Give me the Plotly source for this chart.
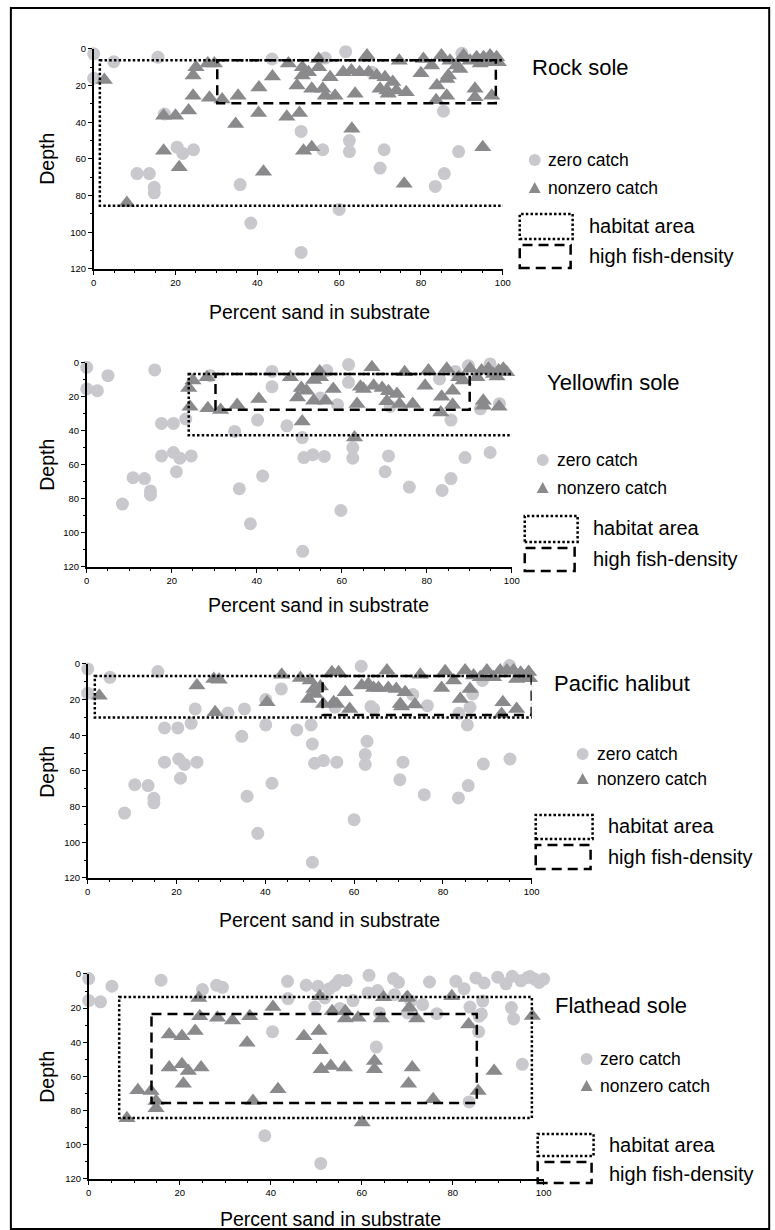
import plotly.graph_objects as go

W, H = 775, 1230

# ---------------- data (percent sand, depth) ----------------
SPECIES = ["Rock sole", "Yellowfin sole", "Pacific halibut", "Flathead sole"]

ROCK_ZERO_SAND = [0, 0, 4.9, 15.7, 43.6, 56.6, 61.6, 90, 17.3, 50.7, 20.4, 21.8, 24.4, 10.6, 13.6, 14.8, 14.8,
                  35.8, 38.4, 50.7, 60, 56, 62.5, 62.5, 71, 70, 83.5, 85.7, 89.2, 85.5, 68]
ROCK_ZERO_DEPTH = [2.7, 16, 7, 4.5, 5.5, 5, 1.5, 2.4, 35.5, 45, 53.6, 57, 55, 68, 68, 75.5, 78.5,
                   74, 95, 111, 87.6, 55, 50, 56, 55, 65, 75, 68, 56, 34, 12.7]
ROCK_CATCH_SAND = [2.6, 8.1, 17.1, 20, 17.1, 20.9, 23.2, 24.3, 24.3, 25, 27.9, 29.5, 28.3, 31.4, 34.7, 35.3,
                   40.3, 40.4, 41.5, 43.7, 47.2, 47.6, 50.3, 49.7, 51, 51, 51.3, 53.3, 52.5, 55, 55, 53.3,
                   56, 56.6, 57.8, 59, 61, 63, 65, 63.9, 63.1, 66.8, 67.2, 69.2, 70, 71.2, 71.7, 73.1, 72,
                   74, 74.7, 76.4, 75.9, 80, 80.6, 82.6, 83.9, 83.7, 85, 86.3, 86.3, 86.7, 87.1, 88.7, 89.5,
                   90.4, 92, 93.2, 93.2, 93.6, 95.3, 95.1, 96.1, 96.9, 97.3, 98.5, 98.9, 94.5]
ROCK_CATCH_DEPTH = [17, 84, 36.5, 36.5, 55.5, 64.5, 33.6, 25.5, 14.5, 10, 8, 8, 26.7, 27.6, 41, 25.5,
                    35, 21, 67, 15, 37, 8, 35, 20, 14.5, 10, 55.5, 53.6, 12.7, 10, 5.5, 21.8,
                    21.8, 25.5, 15.5, 25.5, 12.7, 11.8, 12.7, 24.5, 43.6, 3.6, 12.7, 14.5, 21.8, 15.5, 22.7, 18, 24.5,
                    22.7, 6.4, 23.6, 73.6, 13.3, 5.5, 9, 20, 28, 3.6, 16.4, 25.5, 14.5, 6.4, 9, 11,
                    3.6, 6.4, 21.8, 26.4, 4.5, 4.5, 53.6, 7.3, 3.6, 25.5, 4.5, 7.3, 8]

YELLOW_ZERO_SAND = [0, 0, 2.5, 5, 16, 17.6, 20.4, 23.3, 17.6, 20.4, 21.9, 24.6, 21.1, 10.9, 13.6, 15, 15, 8.4,
                    35.9, 38.5, 41.4, 34.8, 40.2, 43.6, 43.6, 47.1, 50.7, 51.1, 53.2, 55.9, 50.8, 59.8, 61.6,
                    61.6, 56.5, 55, 59, 62.6, 62.6, 71, 70.2, 75.9, 83.6, 85.7, 89, 94.9, 85.7, 83, 92.6,
                    97.1, 89.8, 94.9, 86.7, 71.4, 29.1]
YELLOW_ZERO_DEPTH = [2.6, 15.3, 16.3, 7.5, 4.1, 35.6, 35.6, 33, 54.7, 52.7, 56, 54.7, 64, 67.5, 68, 75.3, 77.7, 83,
                     74, 94.6, 66.5, 40.3, 33.6, 14, 5, 37, 43.9, 55.7, 54, 55, 110.8, 86.8, 1,
                     11.4, 4.5, 20.7, 24.6, 49.8, 56, 54.7, 64, 73, 75, 68, 55.7, 52.7, 33.6, 9.4, 27,
                     24, 1.6, 0.6, 5, 25.6, 7.5]
YELLOW_CATCH_SAND = [24, 24.3, 25, 28.3, 28.5, 31.5, 35.4, 40.5, 47.9, 49.6, 50.5, 50.7, 51.7, 53.4, 53.4, 54.8,
                     55, 56.2, 58, 63.6, 63, 64.4, 65.1, 67.1, 67.5, 69.5, 70.6, 71, 73, 73.6, 74.8, 76.7,
                     79.6, 80.4, 83.5, 83.3, 84.7, 86.1, 86.1, 87.5, 88.6, 90.2, 91.8, 92.9, 93.3, 93.3, 94.5,
                     95.7, 96.9, 97, 98, 98.8, 96.5]
YELLOW_CATCH_DEPTH = [14.8, 25.8, 10.4, 8.5, 26.6, 27.7, 24.8, 21.2, 8.5, 20.3, 14.8, 34.4, 16.3, 22.2, 10, 5,
                      8.5, 22.2, 15.3, 24.2, 43.9, 14, 15.3, 2.6, 13.4, 14.8, 22.6, 16.7, 18.3, 24.2, 5.5, 24.2,
                      13.4, 4.5, 19.9, 29.1, 3.5, 16.3, 24.6, 8.5, 10.4, 3.5, 8.5, 4.5, 22.2, 25.2, 3.5,
                      6.5, 4.5, 25.8, 3.5, 5.5, 8]

HALIBUT_ZERO_SAND = [0, 0, 5, 15.8, 17.3, 20.3, 23.3, 24.2, 31.6, 35.3, 34.7, 17.3, 20.5, 21.8, 24.6, 20.9, 10.6,
                     13.6, 14.9, 14.9, 8.3, 35.9, 38.3, 41.5, 40.1, 40.1, 43.6, 47.1, 50.3, 50.6, 51.1, 53.1,
                     56.1, 50.6, 60, 61.6, 62.9, 62.5, 62.5, 63.8, 64.4, 71, 70.3, 75.8, 83.5, 85.7, 89.1,
                     95.1, 85.5, 86.1, 83.6, 76.5, 73.2, 88.9, 95, 86.7, 55.7]
HALIBUT_ZERO_DEPTH = [2.8, 16.4, 7.5, 4.3, 35.9, 35.9, 33.3, 25.2, 27.5, 25.2, 40.6, 55.1, 53.3, 56.4, 55.1, 64.1, 67.7,
                      68.2, 75.3, 77.9, 83.6, 74.2, 95, 66.9, 34.2, 20, 14, 37, 34.2, 44.9, 55.7, 54.2,
                      55.1, 111.2, 87.3, 1.3, 43.4, 50.8, 56.4, 23.9, 25.2, 55.1, 64.9, 73.3, 75.1, 68.2, 56.1,
                      53.3, 34.2, 24.3, 27.7, 23.4, 17.2, 9.3, 0.9, 16.8, 24.3]
HALIBUT_CATCH_SAND = [2.6, 24.6, 28.4, 29.6, 28.7, 40.4, 43.7, 47.9, 50.1, 50.9, 49.7, 51.2, 52.4, 53.1, 55,
                      55.4, 56.1, 56.5, 58, 59, 61.7, 63.2, 64.4, 65.5, 67.4, 67.7, 69.5, 70.4, 70.7, 71.5,
                      73.7, 74.9, 79.7, 80.5, 82.4, 83.9, 85, 86.1, 86.9, 88.4, 89.9, 91.4, 92.9, 93.5, 93.2,
                      94.4, 95.9, 96.6, 96.6, 97.5, 98.5, 99.3, 99.5]
HALIBUT_CATCH_DEPTH = [17.8, 12.1, 8.4, 8.8, 27.1, 21.5, 6, 7.9, 9.3, 14, 19.6, 16.8, 12.7, 22.4, 4.7,
                       21.5, 22.4, 4.7, 15.9, 25.2, 12.1, 11.2, 13.5, 13.5, 3.7, 13.5, 14, 22.4, 23.9, 15.9,
                       22.8, 6, 13.5, 4.1, 9.3, 19.6, 3.7, 14, 6.5, 7.5, 3.7, 7.5, 3.7, 21.5, 28,
                       3.7, 3.7, 8.4, 25.2, 5, 7, 4.5, 8]

FLATHEAD_ZERO_SAND = [0, 0, 2.6, 5.1, 15.9, 25, 28.1, 29.4, 43.7, 43.8, 47.8, 50.4, 49.7, 51.9, 52.9, 54.1, 55,
                      56.6, 55.2, 58.1, 40.4, 38.7, 51, 61.6, 61.4, 63.5, 63.2, 63.9, 67, 68.1, 67.2, 70.1,
                      70.8, 73.4, 74.9, 76.5, 80.7, 82.5, 85.1, 83.8, 85.8, 85.7, 83.6, 86.9, 89.9, 91.7, 93.1,
                      86.6, 95.3, 92.9, 93.4, 95, 96.5, 98, 99, 97, 100, 86.3]
FLATHEAD_ZERO_DEPTH = [2.7, 15.6, 16.3, 7.2, 3.7, 9.1, 6.6, 7.8, 4.3, 14.4, 6.6, 7.2, 19.4, 14, 8.6, 6.6, 3.9,
                       3.9, 20.2, 15.6, 33.8, 94.7, 110.9, 0.8, 11.1, 9.7, 42.8, 22.8, 2.7, 4.9, 12.1, 22.8,
                       15.9, 17.9, 4.7, 23.3, 4.3, 8.6, 2.3, 19.4, 24.7, 33.8, 74.9, 5.3, 1.9, 5.8, 1.4,
                       15.9, 52.9, 19.7, 26.3, 4, 2, 3, 5, 1.5, 3, 23.4]
FLATHEAD_CATCH_SAND = [8.4, 10.8, 13.7, 14.8, 14.8, 17.7, 20.5, 23.4, 17.7, 20.5, 21.9, 24.7, 20.8, 24.2, 24.4,
                       28.3, 31.6, 34.8, 35.4, 36.1, 40.5, 41.6, 47.3, 50.6, 50.9, 51.1, 53.2, 56.2, 50.8,
                       53.5, 56.4, 56.4, 59.2, 60.1, 62.8, 62.8, 64.3, 64.8, 69.8, 70.3, 71.1, 70.5, 72.1,
                       75.7, 79.8, 83.5, 85.6, 89.1, 97.5, 70.1]
FLATHEAD_CATCH_DEPTH = [84.4, 68.1, 68.5, 74.3, 78.6, 35.4, 36.4, 33.4, 54.8, 52.9, 56.8, 54.8, 64.2, 14, 24.7,
                        25.7, 27.2, 40.3, 24.7, 74.3, 19.4, 67.5, 36.4, 33.4, 44.7, 55.8, 53.9, 54.8, 13,
                        21.8, 21.8, 26.1, 25.7, 86.9, 50.9, 55.8, 26.1, 13.6, 14, 64.2, 54.8, 19.8, 26.1,
                        73.3, 13, 29.6, 68.5, 56.8, 24.6, 13.7]

# boxes: [sand0, sand1, depth0, depth1]
HABITAT_BOXES = [[1.5, 100.5, 6.2, 85.5], [24, 101, 6.5, 42.5], [1.6, 100.3, 6.7, 30], [6.7, 97.4, 13.5, 84.3]]
DENSITY_BOXES = [[30.2, 98.3, 6.2, 29.6], [30.3, 90.1, 6.5, 27.6], [52.9, 100, 6.7, 28.6], [13.8, 85.3, 23.4, 75.5]]

X_TICKS = [0, 20, 40, 60, 80, 100]
Y_TICKS = [0, 20, 40, 60, 80, 100, 120]

ZERO_COLOR = "#c9c9cd"
CATCH_COLOR = "#8a8a8c"
FONT = "Liberation Sans, Arial, Helvetica, sans-serif"

# ---------------- layout geometry (pixels) ----------------
PANELS = [
    dict(x0=93, x1=503, y0=48, y1=268,
         title=(530, 67), xt=(319, 311), yt=(46, 158),
         leg_mk=535, leg_txt=546, leg_y=(159, 187),
         box=(520, 573, 571), box_txt=587, hab_y=(213, 238, 225), den_y=(244, 267, 255)),
    dict(x0=86, x1=512, y0=362, y1=566,
         title=(545, 382), xt=(318, 604), yt=(46, 464),
         leg_mk=543, leg_txt=555, leg_y=(459, 487),
         box=(525, 578, 575), box_txt=591, hab_y=(515, 541, 527), den_y=(547, 570, 558)),
    dict(x0=87, x1=532, y0=663, y1=877,
         title=(552, 683), xt=(329, 919), yt=(46, 771),
         leg_mk=583, leg_txt=595, leg_y=(753, 778),
         box=(536, 593, 591), box_txt=606, hab_y=(814, 838, 825), den_y=(844, 868, 856)),
    dict(x0=88, x1=544, y0=973, y1=1178,
         title=(553, 1005), xt=(330, 1218), yt=(46, 1076),
         leg_mk=587, leg_txt=598, leg_y=(1058, 1085),
         box=(538, 594, 592), box_txt=607, hab_y=(1133, 1155, 1144), den_y=(1161, 1182, 1173)),
]

DATA = [
    (ROCK_ZERO_SAND, ROCK_ZERO_DEPTH, ROCK_CATCH_SAND, ROCK_CATCH_DEPTH),
    (YELLOW_ZERO_SAND, YELLOW_ZERO_DEPTH, YELLOW_CATCH_SAND, YELLOW_CATCH_DEPTH),
    (HALIBUT_ZERO_SAND, HALIBUT_ZERO_DEPTH, HALIBUT_CATCH_SAND, HALIBUT_CATCH_DEPTH),
    (FLATHEAD_ZERO_SAND, FLATHEAD_ZERO_DEPTH, FLATHEAD_CATCH_SAND, FLATHEAD_CATCH_DEPTH),
]

# small correction of layout positions (pixel -> paper)
AX, BX = 0.988, 2.1
AY, BY = 0.991, 5.1


def fx(px):
    return ((px - BX) / AX) / W


def fy(py):
    return 1 - ((py - BY) / AY) / H


DOT = "2.5px,2.2px"
DASH = "10px,6px"

fig = go.Figure()
shapes = []
annotations = []
layout_axes = {}

for i, (p, (zs, zd, cs, cd)) in enumerate(zip(PANELS, DATA)):
    n = i + 1
    xa = "x" if n == 1 else f"x{n}"
    ya = "y" if n == 1 else f"y{n}"
    fig.add_trace(go.Scatter(x=zs, y=zd, mode="markers", xaxis=xa, yaxis=ya, cliponaxis=False,
                             marker=dict(symbol="circle", size=13, color=ZERO_COLOR), showlegend=False,
                             hoverinfo="skip"))
    fig.add_trace(go.Scatter(x=cs, y=cd, mode="markers", xaxis=xa, yaxis=ya, cliponaxis=False,
                             marker=dict(symbol="triangle-up", size=15, color=CATCH_COLOR), showlegend=False,
                             hoverinfo="skip"))
    common = dict(showline=True, linecolor="black", linewidth=1.5, showgrid=False, zeroline=False,
                  ticks="outside", ticklen=4, tickwidth=1.2, tickcolor="black",
                  tickfont=dict(family=FONT, size=9.5, color="black"))
    layout_axes["xaxis" if n == 1 else f"xaxis{n}"] = dict(
        domain=[fx(p["x0"]), fx(p["x1"])], range=[0, 100], anchor=ya,
        tickvals=X_TICKS, ticktext=[str(v) for v in X_TICKS],
        minor=dict(dtick=5, tick0=0, ticks="outside", ticklen=2, tickcolor="black"), **common)
    layout_axes["yaxis" if n == 1 else f"yaxis{n}"] = dict(
        domain=[fy(p["y1"]), fy(p["y0"])], range=[120, 0], anchor=xa,
        tickvals=Y_TICKS, ticktext=[str(v) for v in Y_TICKS],
        minor=dict(dtick=10, tick0=0, ticks="outside", ticklen=2, tickcolor="black"), **common)

    hb = HABITAT_BOXES[i]
    db = DENSITY_BOXES[i]
    shapes.append(dict(type="rect", xref=xa, yref=ya, x0=hb[0], x1=hb[1], y0=hb[2], y1=hb[3],
                       line=dict(color="black", width=2.5, dash=DOT)))
    shapes.append(dict(type="rect", xref=xa, yref=ya, x0=db[0], x1=db[1], y0=db[2], y1=db[3],
                       line=dict(color="black", width=2.5, dash=DASH)))

    # titles
    annotations.append(dict(text=SPECIES[i], x=fx(p["title"][0]), y=fy(p["title"][1]), xref="paper", yref="paper",
                            xanchor="left", yanchor="middle", showarrow=False,
                            font=dict(family=FONT, size=22, color="black")))
    annotations.append(dict(text="Percent sand in substrate", x=fx(p["xt"][0]), y=fy(p["xt"][1]),
                            xref="paper", yref="paper", xanchor="center", yanchor="middle", showarrow=False,
                            font=dict(family=FONT, size=19.5, color="black")))
    annotations.append(dict(text="Depth", x=fx(p["yt"][0]), y=fy(p["yt"][1]), textangle=-90,
                            xref="paper", yref="paper", xanchor="center", yanchor="middle", showarrow=False,
                            font=dict(family=FONT, size=19.5, color="black")))

    # legend: markers
    mx = p["leg_mk"]
    cy0, cy1 = p["leg_y"]
    shapes.append(dict(type="circle", xref="paper", yref="paper", x0=fx(mx - 6), x1=fx(mx + 6),
                       y0=fy(cy0 + 6), y1=fy(cy0 - 6), fillcolor=ZERO_COLOR, line=dict(width=0)))
    tri = f"M {fx(mx - 6)},{fy(cy1 + 5)} L {fx(mx + 6)},{fy(cy1 + 5)} L {fx(mx)},{fy(cy1 - 6)} Z"
    shapes.append(dict(type="path", xref="paper", yref="paper", path=tri, fillcolor=CATCH_COLOR,
                       line=dict(width=0)))
    annotations.append(dict(text="zero catch", x=fx(p["leg_txt"]), y=fy(cy0), xref="paper", yref="paper",
                            xanchor="left", yanchor="middle", showarrow=False,
                            font=dict(family=FONT, size=17.5, color="black")))
    annotations.append(dict(text="nonzero catch", x=fx(p["leg_txt"]), y=fy(cy1), xref="paper", yref="paper",
                            xanchor="left", yanchor="middle", showarrow=False,
                            font=dict(family=FONT, size=17.5, color="black")))
    # legend: boxes
    bx0, bx1h, bx1d = p["box"]
    shapes.append(dict(type="rect", xref="paper", yref="paper", x0=fx(bx0), x1=fx(bx1h),
                       y0=fy(p["hab_y"][1]), y1=fy(p["hab_y"][0]), line=dict(color="black", width=2.5, dash=DOT)))
    shapes.append(dict(type="rect", xref="paper", yref="paper", x0=fx(bx0), x1=fx(bx1d),
                       y0=fy(p["den_y"][1]), y1=fy(p["den_y"][0]), line=dict(color="black", width=2.5, dash=DASH)))
    annotations.append(dict(text="habitat area", x=fx(p["box_txt"]), y=fy(p["hab_y"][2]), xref="paper",
                            yref="paper", xanchor="left", yanchor="middle", showarrow=False,
                            font=dict(family=FONT, size=20, color="black")))
    annotations.append(dict(text="high fish-density", x=fx(p["box_txt"]), y=fy(p["den_y"][2]), xref="paper",
                            yref="paper", xanchor="left", yanchor="middle", showarrow=False,
                            font=dict(family=FONT, size=20, color="black")))

# outer frame
shapes.append(dict(type="rect", xref="paper", yref="paper", x0=fx(10), x1=fx(770), y0=fy(1228), y1=fy(7),
                   line=dict(color="black", width=2)))

fig.update_layout(width=W, height=H, margin=dict(l=0, r=0, t=0, b=0),
                  paper_bgcolor="white", plot_bgcolor="white",
                  shapes=shapes, annotations=annotations, showlegend=False, **layout_axes)

fig.write_html("out.html", config={"displayModeBar": False},
               post_script="document.body.style.margin='0px';document.body.style.padding='0px';"
                           "document.body.style.overflow='hidden';"
                           "document.documentElement.style.overflow='hidden';")
